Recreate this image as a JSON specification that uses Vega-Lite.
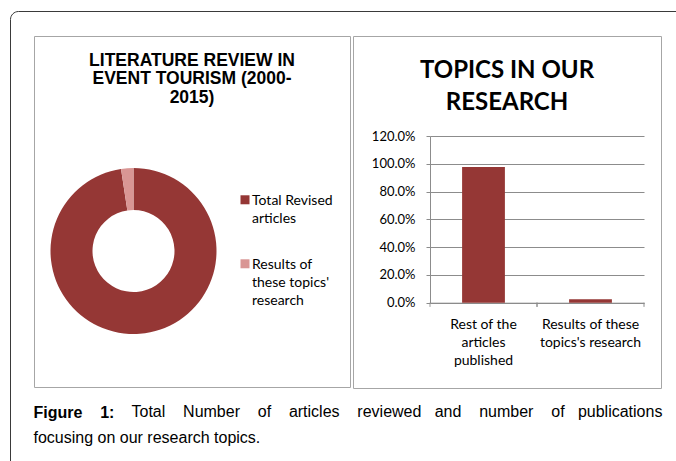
{
  "$schema": "https://vega.github.io/schema/vega-lite/v6.json",
  "padding": {"left": 9, "top": 10, "right": 0, "bottom": 0},
  "background": "white",
  "vconcat": [
    {
      "title": {
        "text": "focusing on our research topics.",
        "orient": "bottom",
        "anchor": "start",
        "offset": 22,
        "baseline": "alphabetic",
        "font": "Liberation Sans",
        "fontSize": 16,
        "fontWeight": "normal",
        "color": "#000000"
      },
      "vconcat": [
        {
          "title": {
            "text": "Total\u00a0\u00a0\u00a0\u00a0Number\u00a0\u00a0\u00a0\u00a0of\u00a0\u00a0\u00a0\u00a0articles\u00a0\u00a0\u00a0\u00a0reviewed\u00a0\u00a0\u00a0and\u00a0\u00a0\u00a0\u00a0number\u00a0\u00a0\u00a0\u00a0of\u00a0\u00a0\u00a0publications",
            "orient": "bottom",
            "anchor": "start",
            "offset": -4,
            "dx": 98,
            "baseline": "alphabetic",
            "font": "Liberation Sans",
            "fontSize": 16,
            "fontWeight": "normal",
            "color": "#000000"
          },
          "vconcat": [
            {
              "spacing": 1,
              "title": {
                "text": "Figure\u00a0\u00a0\u00a0\u00a01:",
                "orient": "bottom",
                "anchor": "start",
                "offset": 29,
                "baseline": "alphabetic",
                "font": "Liberation Sans",
                "fontSize": 16,
                "fontWeight": "bold",
                "color": "#000000"
              },
              "hconcat": [
                {
                  "width": 316,
                  "height": 351,
                  "view": {"stroke": "#a6a6a6"},
                  "title": {
                    "text": ["LITERATURE REVIEW IN", "EVENT TOURISM (2000-", "2015)"],
                    "orient": "top",
                    "anchor": "middle",
                    "frame": "group",
                    "offset": -84,
                    "baseline": "alphabetic",
                    "font": "Liberation Sans",
                    "fontSize": 17.5,
                    "fontWeight": "bold",
                    "lineHeight": 18.5,
                    "color": "#000000"
                  },
                  "data": {
                    "values": [
                      {"category": "Total Revised articles", "pct": 0.976},
                      {"category": "Results of these topics' research", "pct": 0.024}
                    ]
                  },
                  "mark": {"type": "arc", "radius": 83, "radius2": 41, "x": 99.5, "y": 215},
                  "encoding": {
                    "theta": {"field": "pct", "type": "quantitative", "stack": true},
                    "order": {"field": "pct", "type": "quantitative", "sort": "descending"},
                    "color": {
                      "field": "category",
                      "type": "nominal",
                      "scale": {
                        "domain": ["Total Revised articles", "Results of these topics' research"],
                        "range": ["#953735", "#D99694"]
                      },
                      "legend": {
                        "title": null,
                        "orient": "none",
                        "legendX": 204,
                        "legendY": 162,
                        "symbolType": "M-1,-2.16H1V-0.16H-1Z",
                        "symbolSize": 81,
                        "symbolStrokeWidth": 0,
                        "labelFont": "Lato",
                        "labelFontSize": 14,
                        "labelColor": "#000000",
                        "labelBaseline": "alphabetic",
                        "labelOffset": 0,
                        "rowPadding": 32,
                        "labelLimit": 200,
                        "labelExpr": "datum.value === 'Total Revised articles' ? ['Total Revised', 'articles'] : ['Results of', \"these topics'\", 'research']"
                      }
                    }
                  }
                },
                {
                  "width": 308,
                  "height": 352,
                  "view": {"stroke": "#a6a6a6"},
                  "title": {
                    "text": ["TOPICS IN OUR", "RESEARCH"],
                    "orient": "top",
                    "anchor": "middle",
                    "frame": "group",
                    "offset": -98,
                    "baseline": "alphabetic",
                    "font": "Lato",
                    "fontSize": 24,
                    "fontWeight": "bold",
                    "lineHeight": 32,
                    "color": "#000000"
                  },
                  "data": {
                    "values": [
                      {"category": "Rest of the articles published", "pct": 0.976},
                      {"category": "Results of these topics's research", "pct": 0.024}
                    ]
                  },
                  "layer": [
                    {
                      "mark": {"type": "bar", "color": "#953735"},
                      "encoding": {
                        "x": {
                          "field": "category",
                          "type": "nominal",
                          "sort": null,
                          "scale": {"range": [77, 291], "paddingInner": 0.6, "paddingOuter": 0.3},
                          "axis": {
                            "title": null,
                            "orient": "bottom",
                            "offset": -85.3,
                            "labelAngle": 0,
                            "domainColor": "#8c8c8c",
                            "ticks": false,
                            "labelPadding": 15,
                            "labelFont": "Lato",
                            "labelFontSize": 14,
                            "labelLineHeight": 18,
                            "labelColor": "#000000",
                            "labelLimit": 200,
                            "labelExpr": "datum.value === 'Rest of the articles published' ? ['Rest of the', 'articles', 'published'] : ['Results of these', \"topics's research\"]"
                          }
                        },
                        "y": {
                          "field": "pct",
                          "type": "quantitative",
                          "scale": {"domain": [0, 1.2], "range": [266.7, 100]},
                          "axis": {
                            "title": null,
                            "orient": "left",
                            "offset": -77,
                            "values": [0, 0.2, 0.4, 0.6, 0.8, 1.0, 1.2],
                            "format": ".1%",
                            "grid": true,
                            "gridColor": "#8c8c8c",
                            "domainColor": "#8c8c8c",
                            "tickColor": "#8c8c8c",
                            "tickSize": 4,
                            "labelPadding": 11,
                            "labelFont": "Lato",
                            "labelFontSize": 13,
                            "labelColor": "#000000"
                          }
                        }
                      }
                    },
                    {
                      "mark": {"type": "rule", "color": "#8c8c8c", "strokeWidth": 1},
                      "encoding": {
                        "x": {"field": "category", "type": "nominal", "sort": null, "bandPosition": -0.75},
                        "y": {"datum": 0, "type": "quantitative"},
                        "y2": {"datum": -0.03},
                        "strokeDash": {
                          "datum": "frame",
                          "type": "nominal",
                          "legend": {
                            "title": null,
                            "orient": "none",
                            "legendX": -24,
                            "legendY": -25,
                            "padding": 340,
                            "strokeColor": "#3a3a3a",
                            "cornerRadius": 8,
                            "symbolOpacity": 0,
                            "labelExpr": "''"
                          }
                        }
                      }
                    },
                    {
                      "mark": {"type": "rule", "color": "#8c8c8c", "strokeWidth": 1},
                      "encoding": {
                        "x": {"field": "category", "type": "nominal", "sort": null, "bandPosition": 1.75},
                        "y": {"datum": 0, "type": "quantitative"},
                        "y2": {"datum": -0.03}
                      }
                    }
                  ]
                }
              ]
            }
          ]
        }
      ]
    }
  ],
  "config": {
    "font": "Lato",
    "style": {"guide-label": {"lineHeight": 18}}
  }
}
